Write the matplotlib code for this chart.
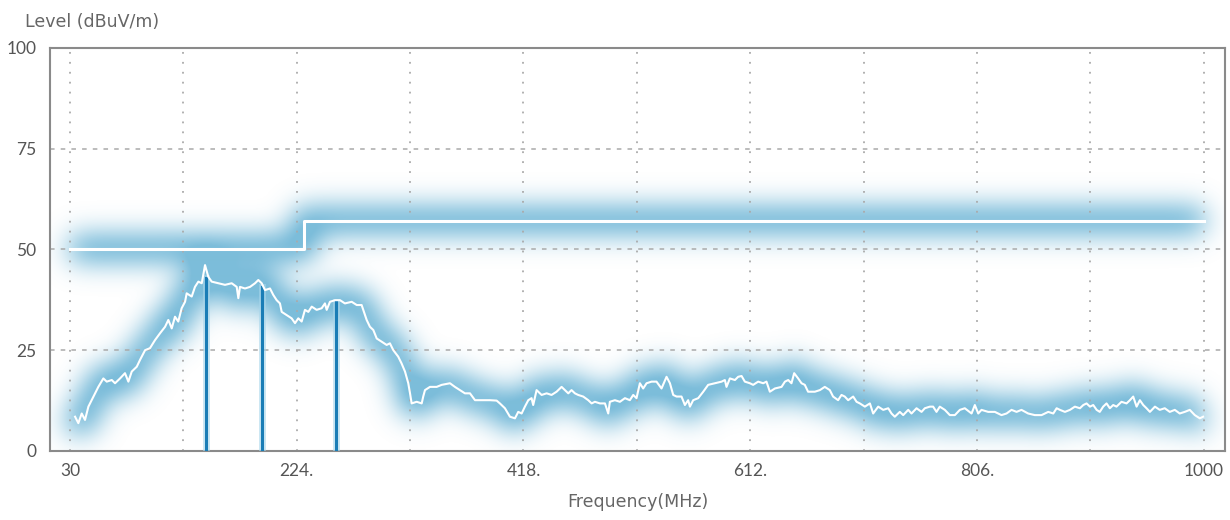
import matplotlib
matplotlib.use("Agg")
import matplotlib.pyplot as plt
import numpy as np

plt.rcParams['font.family'] = ['Lato', 'DejaVu Sans']

# measured trace (MHz, dBuV/m)
freq = [34.3, 37.1, 40.0, 42.8, 45.7, 48.5, 51.4, 54.2, 58.5, 61.4, 65.7, 68.5, 72.8, 77.0,
        79.9, 82.8, 87.1, 89.9, 94.2, 98.4, 102.7, 107.0, 111.3, 114.1, 117.0, 119.8, 122.6,
        125.5, 128.4, 129.8, 134.1, 136.9, 139.8, 142.7, 145.5, 148.3, 151.2, 156.9, 162.6,
        168.3, 172.6, 174.0, 175.4, 179.7, 184.0, 188.3, 191.1, 194.0, 196.8, 201.1, 203.9,
        206.8, 209.6, 211.1, 215.4, 219.6, 222.5, 225.3, 228.2, 231.0, 233.9, 236.8, 241.0,
        245.3, 248.1, 249.6, 252.4, 256.7, 261.0, 265.2, 271.0, 275.3, 279.5, 282.4, 283.8,
        286.6, 289.5, 292.4, 296.6, 300.9, 303.7, 306.6, 310.8, 313.7, 316.6, 319.4, 320.9,
        322.3, 326.6, 330.9, 332.2, 333.7, 338.0, 343.7, 348.0, 355.1, 359.3, 363.6, 367.9,
        372.2, 376.5, 382.2, 389.3, 395.0, 397.8, 402.1, 406.4, 410.7, 413.5, 416.4, 419.2,
        422.1, 424.9, 426.3, 429.2, 433.5, 437.8, 442.0, 446.3, 450.6, 453.4, 456.3, 459.1,
        462.0, 464.8, 469.1, 473.4, 476.3, 479.1, 483.4, 487.7, 490.5, 491.9, 496.2, 500.5,
        504.8, 509.0, 511.9, 514.7, 517.6, 520.4, 523.3, 527.6, 531.8, 536.1, 540.4, 543.3,
        546.1, 549.0, 553.2, 556.1, 558.9, 560.4, 563.2, 567.5, 571.8, 576.0, 581.8, 587.5,
        590.3, 591.7, 594.6, 598.9, 601.7, 604.6, 607.4, 611.7, 614.5, 618.8, 623.1, 625.9,
        628.8, 633.1, 638.8, 641.7, 644.5, 647.3, 649.6, 653.0, 655.9, 658.7, 661.5, 667.3,
        671.6, 675.8, 680.1, 682.9, 687.2, 690.1, 692.9, 695.8, 700.1, 703.0, 705.8, 710.1,
        714.4, 717.2, 721.5, 725.8, 730.1, 732.9, 735.7, 740.0, 742.9, 747.2, 750.0, 754.3,
        758.6, 761.4, 765.7, 768.5, 771.4, 774.2, 778.5, 782.8, 787.1, 791.4, 795.6, 801.4,
        804.2, 807.1, 809.9, 815.6, 821.3, 827.0, 831.3, 835.6, 839.9, 844.1, 849.8, 855.5,
        861.3, 867.0, 871.3, 874.2, 877.0, 881.3, 885.6, 889.8, 894.1, 897.0, 899.8, 902.7,
        905.5, 908.4, 911.1, 914.0, 916.9, 919.7, 922.6, 925.4, 929.7, 934.0, 936.9, 939.7,
        942.6, 945.4, 948.3, 951.1, 954.0, 958.3, 962.4, 966.7, 971.0, 975.3, 979.5, 983.8,
        988.1, 992.4, 996.7, 999.5]
level = [8.5, 6.9, 9.3, 7.7, 11.0, 12.6, 14.3, 15.9, 18.0, 17.2, 17.6, 16.8, 18.0, 19.3,
         17.2, 19.7, 20.9, 22.6, 25.0, 25.5, 27.5, 29.2, 30.8, 32.5, 30.4, 33.3, 32.1,
         35.4, 37.0, 39.1, 38.3, 40.7, 42.0, 41.6, 46.1, 43.2, 42.0, 41.6, 41.2,
         41.6, 40.7, 37.9, 40.7, 40.3, 40.7, 41.6, 42.4, 41.6, 39.9, 40.3, 38.7,
         37.4, 36.6, 34.5, 33.7, 32.9, 31.7, 32.9, 32.1, 35.0, 34.5, 35.8, 35.0,
         35.4, 36.6, 35.0, 37.0, 37.4, 37.4, 36.6, 37.0, 36.2, 36.2, 33.7, 32.5,
         30.8, 30.0, 27.9, 27.1, 26.3, 26.7, 25.0, 23.4, 21.7, 19.7, 16.8, 14.3,
         11.8, 12.2, 11.8, 13.5, 15.1, 15.9, 15.9, 16.4, 16.8, 15.9, 15.1, 14.3,
         14.3, 12.6, 12.6, 12.6, 12.5, 11.8, 10.6, 8.5, 8.1, 9.7, 9.3, 11.0,
         12.6, 13.1, 11.4, 15.1, 13.9, 14.3, 13.9, 14.7, 15.9, 15.1, 14.3, 15.1,
         14.3, 13.9, 13.5, 12.6, 11.8, 12.2, 11.8, 11.8, 9.3, 12.2, 12.6, 12.2,
         13.1, 12.6, 13.9, 13.1, 16.8, 15.5, 16.8, 17.2, 17.2, 15.5, 18.4, 16.8,
         13.9, 13.5, 13.5, 11.4, 12.6, 11.0, 12.6, 13.1, 14.7, 16.4, 16.8, 17.2,
         17.6, 15.9, 18.0, 17.6, 18.4, 18.6, 17.2, 16.8, 16.4, 17.2, 16.8, 17.2,
         14.7, 15.5, 15.9, 17.2, 17.6, 16.8, 19.3, 18.0, 16.8, 16.4, 14.7, 14.7,
         15.1, 15.9, 15.1, 13.5, 12.6, 13.9, 13.5, 12.6, 13.5, 12.2, 11.8, 11.0,
         11.8, 9.3, 11.0, 10.2, 10.6, 9.3, 8.5, 9.7, 8.9, 10.2, 9.3, 10.6,
         9.7, 10.6, 11.0, 11.0, 9.7, 11.0, 10.2, 8.9, 8.9, 10.2, 10.6, 9.3,
         11.4, 9.3, 10.2, 9.7, 9.7, 8.9, 9.3, 10.2, 9.7, 10.2, 9.3, 8.9,
         8.9, 9.7, 9.3, 10.6, 10.2, 9.7, 10.2, 11.0, 10.6, 11.4, 11.8, 11.0,
         11.4, 10.2, 9.7, 11.0, 11.8, 10.6, 11.4, 11.0, 12.2, 11.8, 12.6, 13.5,
         11.0, 12.6, 11.4, 10.6, 9.7, 11.0, 10.2, 10.6, 9.7, 10.2, 9.3, 9.7,
         10.2, 8.9, 8.1, 8.5]

# limit line
limit_freq = [30, 230, 230, 1000]
limit_level = [50, 50, 57, 57]

# marked peaks
peak_freq = [146.1, 194.5, 257.3]
peak_level = [43.0, 40.7, 37.0]

xticks = [30, 224, 418, 612, 806, 1000]
xticklabels = ['30', '224.', '418.', '612.', '806.', '1000']
yticks = [0, 25, 50, 75, 100]

FIGSIZE = (12.3, 5.2)
DPI = 100
AX_RECT = [0.0407, 0.1327, 0.955, 0.7755]
XLIM = (12.9, 1018)
YLIM = (0, 100)


def gaussian_blur(img, sigma):
    r = int(3 * sigma)
    k = np.exp(-0.5 * (np.arange(-r, r + 1) / sigma) ** 2)
    k /= k.sum()
    out = np.apply_along_axis(lambda v: np.convolve(v, k, mode='same'), 0, img)
    out = np.apply_along_axis(lambda v: np.convolve(v, k, mode='same'), 1, out)
    return out


def glow_image(series, lw, sigma):
    # draw the curves off-screen, blur them, return the part inside the axes
    gfig = plt.figure(figsize=FIGSIZE, dpi=DPI)
    gax = gfig.add_axes(AX_RECT)
    gax.set_xlim(XLIM)
    gax.set_ylim(YLIM)
    gax.axis('off')
    for x, y in series:
        gax.plot(x, y, color='black', lw=lw, solid_joinstyle='round',
                 solid_capstyle='butt')
    gfig.canvas.draw()
    buf = np.asarray(gfig.canvas.buffer_rgba())[:, :, 0].astype(float)
    bb = gax.get_window_extent()
    plt.close(gfig)
    mask = 1.0 - buf / 255.0
    blurred = gaussian_blur(mask, sigma)
    h = buf.shape[0]
    return blurred[int(round(h - bb.y1)):int(round(h - bb.y0)),
                   int(round(bb.x0)):int(round(bb.x1))]


fig = plt.figure(figsize=FIGSIZE, dpi=DPI)
ax = fig.add_axes(AX_RECT)
ax.set_xlim(XLIM)
ax.set_ylim(YLIM)

g = glow_image([(freq, level), (limit_freq, limit_level)], lw=17, sigma=14)
rgba = np.zeros(g.shape + (4,))
rgba[..., 0] = 0.29
rgba[..., 1] = 0.64
rgba[..., 2] = 0.80
rgba[..., 3] = np.clip(g * 1.05, 0, 0.72)
ax.imshow(rgba, extent=(XLIM[0], XLIM[1], YLIM[0], YLIM[1]), origin='upper',
          aspect='auto', interpolation='bilinear', zorder=1)

ax.plot(limit_freq, limit_level, color='white', lw=2.2, zorder=4)
ax.plot(freq, level, color='white', lw=1.5, solid_joinstyle='round', zorder=4)

for f, l in zip(peak_freq, peak_level):
    ax.plot([f, f], [0, l], color='#a8d6eb', lw=5, alpha=0.6, zorder=3)
    ax.plot([f, f], [0, l], color='#1a7db6', lw=2.2, zorder=3.5)

ax.set_xticks(xticks)
ax.set_xticklabels(xticklabels)
ax.set_yticks(yticks)
ax.tick_params(length=0, labelsize=12.5, labelcolor='#555555')
ax.tick_params(axis='x', pad=9)
ax.tick_params(axis='y', pad=10)

# grid: dotted verticals every 97 MHz, dashed horizontals
for gx in np.arange(30, 1001, 97):
    ax.axvline(gx, color='#aaaaaa', lw=1.3, ls=(0, (1, 4.5)), zorder=2)
for gy in [25, 50, 75]:
    ax.axhline(gy, color='#aaaaaa', lw=1.1, ls=(0, (3, 4)), zorder=2)

for sp in ax.spines.values():
    sp.set_color('#8a8a8a')
    sp.set_linewidth(1.5)

ax.set_xlabel('Frequency(MHz)', fontsize=12.5, color='#666666', labelpad=10,
              family=['DejaVu Sans'])
fig.text(0.02, 0.957, 'Level (dBuV/m)', fontsize=12.5, color='#666666', va='center',
         family=['DejaVu Sans'])

fig.savefig('out.png', dpi=DPI, facecolor='white')
